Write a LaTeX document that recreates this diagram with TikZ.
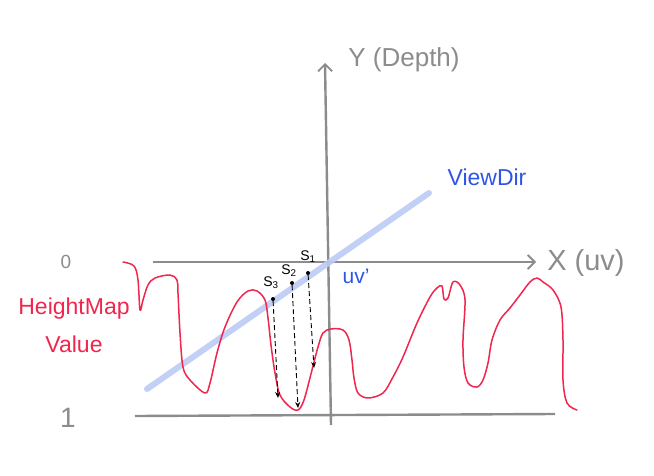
\documentclass[tikz,border=0pt]{standalone}
\usepackage{fontspec}
\setmainfont{Liberation Sans}
\usetikzlibrary{arrows.meta}
\definecolor{axisgray}{HTML}{8C8C8C}
\definecolor{hmred}{HTML}{F0264E}
\definecolor{viewblue}{HTML}{2F55E8}
\definecolor{viewline}{HTML}{BCCBF5}
\tikzset{
  axis/.style={draw=axisgray, line width=2.4pt},
  axisarrow/.style={axis, -{Straight Barb[length=7pt,width=14pt,line width=1.8pt]}},
  graylabel/.style={text=axisgray, inner sep=0pt},
  bluelabel/.style={text=viewblue, inner sep=0pt},
  redlabel/.style={text=hmred, inner sep=0pt},
  samplelabel/.style={text=black, inner sep=0pt, font=\fontsize{14}{14}\selectfont},
  probe/.style={draw=black, line width=0.9pt, dash pattern=on 5pt off 3pt, -{Stealth[length=6pt,width=5pt]}},
  sampledot/.style={fill=black, circle, inner sep=0pt, minimum size=4pt}
}
\begin{document}
\begin{tikzpicture}[x=1pt,y=-1pt]
\useasboundingbox (0,0) rectangle (654,476);
\fill[white] (0,0) rectangle (654,476);

% axes
\coordinate (ybot) at (331,425);
\coordinate (ytop) at (325,63);
\coordinate (xleft) at (153,262);
\coordinate (xright) at (536,262);
\coordinate (bleft) at (135,416);
\coordinate (bright) at (555,414);
\draw[axisarrow] (ybot) -- (ytop);
\draw[axisarrow] (xleft) -- (xright);
\draw[axis] (bleft) -- (bright);

% view direction
\coordinate (vstart) at (147,389);
\coordinate (vend) at (429,193);
\draw[viewline, line width=6pt, line cap=round, opacity=0.9] (vstart) -- (vend);

% height map curve
\draw[hmred, line width=1.5pt, line cap=round, line join=round] plot[smooth, tension=0.55] coordinates {
(123,262) (134,266) (138,280) (140,310) (143,300) (148,285) (155,278) (170,275) (177,280) (178,293) (180,333) (183,367) (190,380) (205,393) (210,383) (217,353) (225,327) (237,302) (248,291) (257,291) (265,300) (268,318) (271,345) (275,373) (280,395) (290,407) (298,410) (304,400) (312,370) (318,347) (323,333) (331,329) (343,330) (349,340) (352,360) (354,378) (358,393) (368,398) (383,393) (393,377) (403,357) (417,323) (430,297) (437,288) (442,286) (444,299) (448,298) (453,282) (460,285) (465,300) (463,340) (464,367) (468,383) (477,387) (483,380) (488,363) (492,340) (500,320) (510,308) (520,295) (530,282) (537,278) (543,282) (553,290) (561,307) (563,340) (563,380) (567,403) (577,410)};

% samples
\node[sampledot] (d1) at (308,273) {};
\node[sampledot] (d2) at (292,283) {};
\node[sampledot] (d3) at (273,299) {};
\coordinate (e1) at (314,368);
\coordinate (e2) at (298,408);
\coordinate (e3) at (278,398);
\draw[probe] (d1) -- (e1);
\draw[probe] (d2) -- (e2);
\draw[probe] (d3) -- (e3);
\node[samplelabel] (s1) at (308,257) {S\textsubscript{1}};
\node[samplelabel] (s2) at (289,271) {S\textsubscript{2}};
\node[samplelabel] (s3) at (271,283) {S\textsubscript{3}};

% labels
\node[graylabel, font=\fontsize{26}{26}\selectfont] (ylabel) at (404,60) {Y (Depth)};
\node[graylabel, font=\fontsize{29}{29}\selectfont] (xlabel) at (586,263) {X (uv)};
\node[bluelabel, font=\fontsize{23}{23}\selectfont] (vlabel) at (487,177) {ViewDir};
\node[bluelabel, font=\fontsize{21}{21}\selectfont] (uvlabel) at (356,276) {uv'};
\node[redlabel, font=\fontsize{23}{38}\selectfont, align=center] (hlabel) at (74,325) {HeightMap\\Value};
\node[graylabel, font=\fontsize{19}{19}\selectfont] (zero) at (66,262) {0};
\node[graylabel, font=\fontsize{28}{28}\selectfont] (one) at (68,418) {1};
\end{tikzpicture}
\end{document}
